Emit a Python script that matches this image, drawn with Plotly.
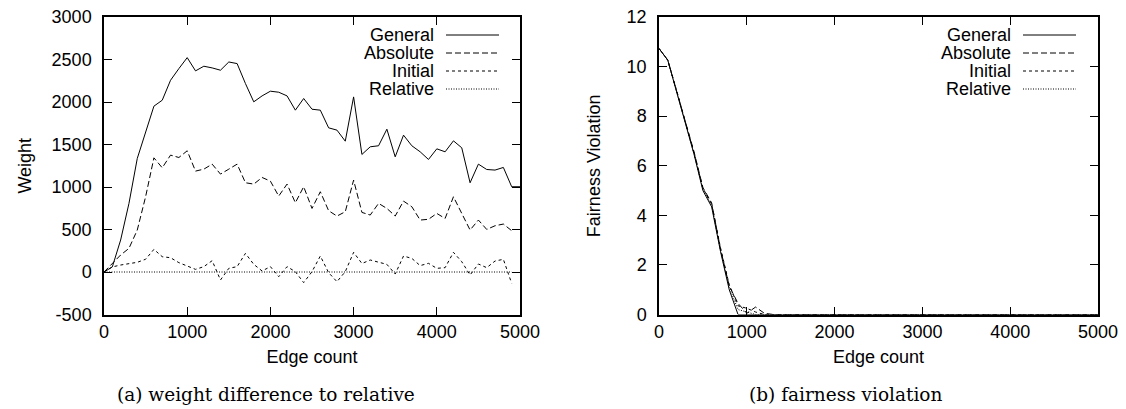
import plotly.graph_objects as go

# ---------------- data ----------------
edge_a = [0, 100, 200, 300, 400, 500, 600, 700, 800, 900,
          1000, 1100, 1200, 1300, 1400, 1500, 1600, 1700, 1800, 1900,
          2000, 2100, 2200, 2300, 2400, 2500, 2600, 2700, 2800, 2900,
          3000, 3100, 3200, 3300, 3400, 3500, 3600, 3700, 3800, 3900,
          4000, 4100, 4200, 4300, 4400, 4500, 4600, 4700, 4800, 4900]
edge_a_general = edge_a + [5000]

weight_general = [0, 60, 376, 807, 1336, 1649, 1951, 2021, 2256, 2393,
                  2522, 2366, 2421, 2401, 2374, 2471, 2452, 2217, 2002, 2072,
                  2127, 2115, 2072, 1904, 2041, 1915, 1904, 1696, 1669, 1539,
                  2060, 1383, 1473, 1485, 1680, 1355, 1610, 1485, 1414, 1324,
                  1449, 1414, 1543, 1461, 1050, 1269, 1206, 1199, 1230, 1003,
                  1003]
weight_absolute = [0, 100, 200, 278, 494, 885, 1343, 1226, 1375, 1347,
                   1426, 1187, 1210, 1269, 1152, 1210, 1269, 1050, 1034, 1112,
                   1069, 893, 1034, 815, 1003, 748, 944, 721, 658, 709,
                   1081, 701, 670, 807, 748, 658, 834, 768, 611, 620,
                   689, 630, 885, 689, 494, 611, 501, 544, 564, 486]
weight_initial = [0, 60, 82, 100, 114, 150, 266, 180, 168, 110,
                  70, 31, 63, 133, -94, 43, 63, 219, 90, 12,
                  63, -55, 63, 4, -125, 4, 188, -8, -114, 4,
                  231, 100, 141, 118, 90, -24, 188, 160, 75, 102,
                  43, 51, 231, 121, -35, 94, 51, 129, 149, -133]
weight_relative = [0, 0, 0, 0, 0, 0, 0, 0, 0, 0,
                   0, 0, 0, 0, 0, 0, 0, 0, 0, 0,
                   0, 0, 0, 0, 0, 0, 0, 0, 0, 0,
                   0, 0, 0, 0, 0, 0, 0, 0, 0, 0,
                   0, 0, 0, 0, 0, 0, 0, 0, 0, 0]

edge_b = [0, 100, 200, 300, 400, 500, 600, 700, 800, 900,
          1000, 1100, 1200, 1300, 1400, 1500, 2000, 2500, 3000, 3500,
          4000, 4500, 5000]
fair_general = [10.73, 10.26, 8.99, 7.72, 6.45, 5.0, 4.34, 2.55, 1.0, 0.0,
                0.0, 0.0, 0.0, 0.0, 0.0, 0.0, 0.0, 0.0, 0.0, 0.0,
                0.0, 0.0, 0.0]
fair_absolute = [10.73, 10.26, 9.02, 7.78, 6.55, 5.12, 4.5, 2.65, 1.15, 0.45,
                 0.05, 0.3, 0.05, 0.0, 0.0, 0.0, 0.0, 0.0, 0.0, 0.0,
                 0.0, 0.0, 0.0]
fair_initial = [10.73, 10.26, 9.05, 7.8, 6.5, 5.1, 4.45, 2.7, 1.2, 0.35,
                0.25, 0.1, 0.0, 0.0, 0.0, 0.0, 0.0, 0.0, 0.0, 0.0,
                0.0, 0.0, 0.0]
fair_relative = [10.73, 10.26, 9.0, 7.74, 6.48, 5.05, 4.4, 2.6, 1.1, 0.2,
                 0.1, 0.0, 0.0, 0.0, 0.0, 0.0, 0.0, 0.0, 0.0, 0.0,
                 0.0, 0.0, 0.0]

series_names = ["General", "Absolute", "Initial", "Relative"]
series_dash = ["solid", "6px,3px", "3px,3px", "1px,1.5px"]

x_tickvals = [0, 1000, 2000, 3000, 4000, 5000]
x_ticktext = ["0", "1000", "2000", "3000", "4000", "5000"]
weight_tickvals = [-500, 0, 500, 1000, 1500, 2000, 2500, 3000]
weight_ticktext = ["-500", "0", "500", "1000", "1500", "2000", "2500", "3000"]
fair_tickvals = [0, 2, 4, 6, 8, 10, 12]
fair_ticktext = ["0", "2", "4", "6", "8", "10", "12"]

# ---------------- figure ----------------
# the page body has an 8px margin, so the figure starts at (8, 8) in the window
OFF = 8
W, H = 1126 - OFF, 409 - OFF
fig = go.Figure()

left_series = [(edge_a_general, weight_general), (edge_a, weight_absolute),
               (edge_a, weight_initial), (edge_a, weight_relative)]
right_series = [(edge_b, fair_general), (edge_b, fair_absolute),
                (edge_b, fair_initial), (edge_b, fair_relative)]

for (x, y), name, dash in zip(left_series, series_names, series_dash):
    fig.add_trace(go.Scatter(x=x, y=y, mode="lines", name=name, showlegend=False,
                             line=dict(color="#000000", width=1, dash=dash),
                             xaxis="x", yaxis="y"))
for (x, y), name, dash in zip(right_series, series_names, series_dash):
    fig.add_trace(go.Scatter(x=x, y=y, mode="lines", name=name, showlegend=False,
                             line=dict(color="#000000", width=1, dash=dash),
                             xaxis="x2", yaxis="y2"))

def px(x):
    return (x - OFF) / W

def py(y):
    return 1 - (y - OFF) / H

font_sans = dict(family="Liberation Sans, Arial, sans-serif", size=18, color="#000000")

axis_common = dict(showline=True, mirror="ticks", linecolor="#000000", linewidth=1.5,
                   ticks="inside", ticklen=8, tickwidth=1, tickcolor="#000000",
                   showgrid=False, zeroline=False, tickfont=font_sans,
                   title_font=font_sans, automargin=False, tickmode="array",
                   ticklabeloverflow="allow")

ydom = [py(314.5), py(17)]
fig.update_layout(
    width=W, height=H,
    margin=dict(l=0, r=0, t=0, b=0),
    paper_bgcolor="white", plot_bgcolor="white",
    font=font_sans,
    xaxis=dict(domain=[px(104), px(520)], range=[0, 5000], anchor="y",
               tickvals=x_tickvals, ticktext=x_ticktext,
               title=dict(text="Edge count", standoff=10), **axis_common),
    yaxis=dict(domain=ydom, range=[-500, 3000], anchor="x",
               tickvals=weight_tickvals, ticktext=weight_ticktext,
               ticklabelstandoff=7,
               title=dict(text="Weight", standoff=15), **axis_common),
    xaxis2=dict(domain=[px(659), px(1098)], range=[0, 5000], anchor="y2",
                tickvals=x_tickvals, ticktext=x_ticktext,
                title=dict(text="Edge count", standoff=10), **axis_common),
    yaxis2=dict(domain=ydom, range=[0, 12], anchor="x2",
                tickvals=fair_tickvals, ticktext=fair_ticktext,
                ticklabelstandoff=7,
                title=dict(text="Fairness Violation", standoff=21), **axis_common),
)

# legends (text right-aligned, sample line to the right, gnuplot style)
legend_rows_y = [35, 53, 71, 89]
shapes = []
annotations = []
for text_right, line_x0, line_x1 in [(435, 446, 499), (1012, 1023, 1076)]:
    for name, dash, yy in zip(series_names, series_dash, legend_rows_y):
        annotations.append(dict(x=px(text_right), y=py(yy), xref="paper", yref="paper",
                                text=name, showarrow=False, xanchor="right",
                                yanchor="middle", height=16, borderpad=0,
                                font=font_sans))
        shapes.append(dict(type="line", xref="paper", yref="paper",
                           x0=px(line_x0), x1=px(line_x1), y0=py(yy), y1=py(yy),
                           line=dict(color="#000000", width=1, dash=dash)))

font_serif = dict(family="DejaVu Serif, Liberation Serif, serif", size=18.5, color="#000000")
annotations.append(dict(x=px(266), y=py(394), xref="paper", yref="paper",
                        text="(a) weight difference to relative", showarrow=False,
                        xanchor="center", yanchor="middle", font=font_serif))
annotations.append(dict(x=px(845), y=py(394), xref="paper", yref="paper",
                        text="(b) fairness violation", showarrow=False,
                        xanchor="center", yanchor="middle", font=font_serif))

fig.update_layout(shapes=shapes, annotations=annotations)

fig.write_html("out.html")
